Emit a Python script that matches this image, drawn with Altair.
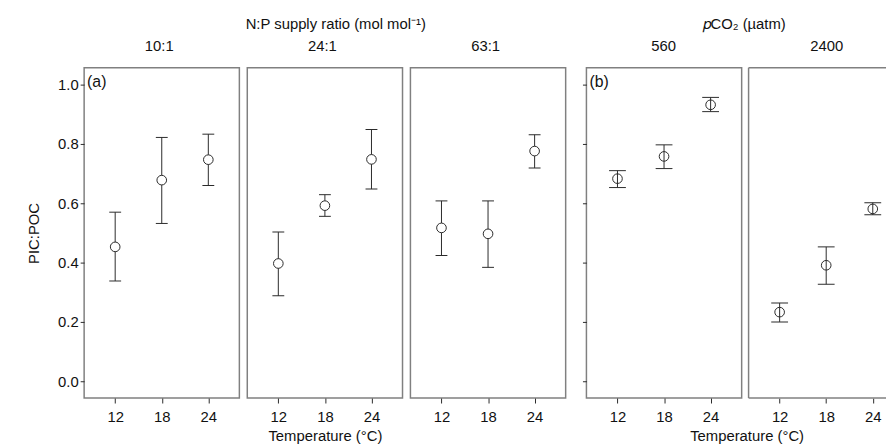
import altair as alt
import pandas as pd

# ---- data ----
temps = [12, 18, 24]

np_panels = ["10:1", "24:1", "63:1"]
np_mean = [[0.453, 0.678, 0.747], [0.397, 0.592, 0.748], [0.517, 0.497, 0.776]]
np_lo = [[0.338, 0.532, 0.660], [0.288, 0.556, 0.648], [0.424, 0.384, 0.719]]
np_hi = [[0.570, 0.822, 0.833], [0.503, 0.629, 0.849], [0.608, 0.608, 0.831]]

co2_panels = ["560", "2400"]
co2_mean = [[0.683, 0.758, 0.932], [0.233, 0.391, 0.581]]
co2_lo = [[0.653, 0.717, 0.909], [0.200, 0.327, 0.561]]
co2_hi = [[0.710, 0.797, 0.957], [0.264, 0.453, 0.602]]

y_ticks = [0.0, 0.2, 0.4, 0.6, 0.8, 1.0]
x_ticks = [12, 18, 24]

group_titles = ["N:P supply ratio (mol mol\u207b\u00b9)", "\U0001d45dCO\u2082 (\u00b5atm)"]
x_title = "Temperature (°C)"
y_title = "PIC:POC"

FONT = "Liberation Sans"
INK = "#2a2a2a"
TXT = "#111111"
FRAME = "#808080"
W, H = 157, 334
W_LAST = 139
FS = 15
PX_PER_DEG = 157 / 20.0


def panel(header, mean, lo, hi, cap, open_fill, yaxis, xt=None, tag=None, title_x=None,
          gtitle=None, gdx=0, width=W, header_x=76, frame=False):
    df = pd.DataFrame({"temp": temps, "mean": mean, "lo": lo, "hi": hi})
    base = alt.Chart(df)
    xmax = 8 + width / PX_PER_DEG
    xaxis_kw = dict(values=x_ticks, domain=False, grid=False, tickSize=5, tickColor=INK,
                    labelFontSize=FS, labelFont=FONT, labelColor=TXT, labelPadding=7,
                    titleFontSize=FS, titleFont=FONT, titleColor=TXT,
                    titleFontWeight="normal", titlePadding=4)
    if title_x is not None:
        xaxis_kw["titleX"] = title_x
    xscale = alt.Scale(domain=[8, xmax], nice=False, zero=False)
    if xt:
        xenc = alt.X("temp:Q", scale=xscale, axis=alt.Axis(**xaxis_kw), title=xt)
    else:
        xenc = alt.X("temp:Q", scale=xscale, axis=alt.Axis(**xaxis_kw), title=None)
    yscale = alt.Scale(domain=[-0.0567, 1.0567], nice=False, zero=False)
    if yaxis == "full":
        yax = alt.Axis(values=y_ticks, format=".1f", domain=False, grid=False, tickSize=4,
                       tickColor=INK, labelFontSize=FS, labelFont=FONT, labelColor=TXT,
                       labelPadding=2, titleFontSize=FS, titleFont=FONT, titleColor=TXT,
                       titleFontWeight="normal", titlePadding=16)
        ylo = alt.Y("lo:Q", scale=yscale, axis=yax, title=y_title)
    elif yaxis == "ticks":
        yax = alt.Axis(values=y_ticks, labels=False, domain=False, grid=False, tickSize=4,
                       tickColor=INK)
        ylo = alt.Y("lo:Q", scale=yscale, axis=yax, title=None)
    else:
        ylo = alt.Y("lo:Q", scale=yscale, axis=None)

    rule = base.mark_rule(color=INK, strokeWidth=1).encode(x=xenc, y=ylo, y2="hi:Q")
    cap_lo = base.mark_tick(orient="horizontal", size=cap, thickness=1, color=INK, opacity=1).encode(
        x=xenc, y="lo:Q")
    cap_hi = base.mark_tick(orient="horizontal", size=cap, thickness=1, color=INK, opacity=1).encode(
        x=xenc, y="hi:Q")
    if open_fill:
        pts = base.mark_point(shape="circle", size=95, filled=True, fill="white",
                              stroke=INK, strokeWidth=1, opacity=1).encode(x=xenc, y="mean:Q")
    else:
        pts = base.mark_point(shape="circle", size=95, filled=False,
                              stroke=INK, strokeWidth=1, opacity=1).encode(x=xenc, y="mean:Q")
    layers = [rule, cap_lo, cap_hi, pts]
    one = pd.DataFrame({"label": [header]})
    htxt = alt.Chart(one).mark_text(align="center", baseline="middle", fontSize=FS,
                                    font=FONT, color=TXT).encode(
        x=alt.value(header_x), y=alt.value(-22), text="label:N")
    layers.append(htxt)
    if tag:
        tdf = pd.DataFrame({"label": [tag]})
        txt = alt.Chart(tdf).mark_text(align="left", baseline="middle", fontSize=FS + 1,
                                       font=FONT, color=TXT).encode(
            x=alt.value(3), y=alt.value(14), text="label:N")
        layers.append(txt)
    if frame:
        fr = alt.Chart(one)
        layers.append(fr.mark_rule(color=FRAME, strokeWidth=1.5).encode(
            x=alt.value(0), x2=alt.value(width), y=alt.value(0)))
        layers.append(fr.mark_rule(color=FRAME, strokeWidth=1.5).encode(
            x=alt.value(0), x2=alt.value(width), y=alt.value(H)))
        layers.append(fr.mark_rule(color=FRAME, strokeWidth=1.5).encode(
            x=alt.value(0), y=alt.value(0), y2=alt.value(H)))
    props = dict(width=width, height=H)
    if gtitle:
        props["title"] = alt.TitleParams(gtitle, fontSize=FS, font=FONT, fontWeight="normal",
                                         color=TXT, anchor="middle", frame="group",
                                         dx=gdx, offset=7)
    out = alt.layer(*layers).properties(**props)
    if frame:
        out = out.properties(view=alt.ViewBackground(stroke="transparent"))
    return out


def spacer(w):
    d = pd.DataFrame({"label": [""]})
    return alt.Chart(d).mark_text(text="").encode(
        x=alt.value(0), y=alt.value(0)
    ).properties(width=w, height=H, view=alt.ViewBackground(stroke="transparent"))


p1 = panel(np_panels[0], np_mean[0], np_lo[0], np_hi[0], 12, True, "full", tag="(a)")
p2 = panel(np_panels[1], np_mean[1], np_lo[1], np_hi[1], 12, True, "none", xt=x_title,
           gtitle=group_titles[0], gdx=11)
p3 = panel(np_panels[2], np_mean[2], np_lo[2], np_hi[2], 12, True, "none")
p4 = panel(co2_panels[0], co2_mean[0], co2_lo[0], co2_hi[0], 17, False, "ticks",
           xt=x_title, tag="(b)", title_x=162, gtitle=group_titles[1], gdx=81, header_x=78)
p5 = panel(co2_panels[1], co2_mean[1], co2_lo[1], co2_hi[1], 17, False, "none",
           width=W_LAST, header_x=79, frame=True)

chart = alt.hconcat(p1, spacer(8), p2, spacer(8), p3, spacer(21), p4, spacer(7), p5,
                    spacing=0, bounds="flush").properties(
    padding={"left": 18, "top": 6, "right": 0, "bottom": 0}
).configure(background="white").configure_view(stroke=FRAME, strokeWidth=1.5)

chart.save("out.html", embed_options={"renderer": "svg", "actions": False})
